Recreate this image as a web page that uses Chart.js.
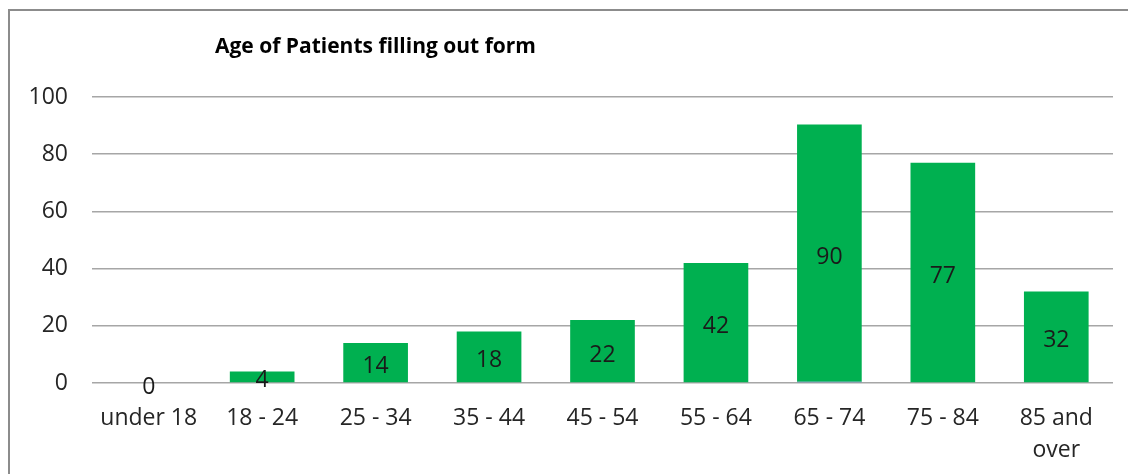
<!DOCTYPE html>
<html lang="en">
<head>
  <meta charset="UTF-8">
  <title>Age of Patients</title>
  <script src="https://cdn.jsdelivr.net/npm/chart.js"></script>
  <style>
    body { margin: 0; background: #fff; overflow: hidden; }
    .frame {
      position: absolute; left: 8px; top: 9px;
      width: 1140px; height: 480px;
      border: 2px solid #8c8c8c;
    }
    .wrap { position: absolute; left: 0; top: 0; width: 1128px; height: 474px; }
  </style>
</head>
<body>
  <div class="frame"></div>
  <div class="wrap"><canvas id="ageChart"></canvas></div>

  <script>
    const chartTitle = 'Age of Patients filling out form';
    const ageGroups = ['under 18', '18 - 24', '25 - 34', '35 - 44', '45 - 54', '55 - 64', '65 - 74', '75 - 84', ['85 and', 'over']];
    const patientCounts = [0, 4, 14, 18, 22, 42, 90, 77, 32];
    // thin second series showing under the 65 - 74 bar
    const otherCounts = [0, 0, 0, 0, 0, 0, 0.4, 0, 0];
    const yTicks = [0, 20, 40, 60, 80, 100];

    const textColor = '#262626';
    const fontFamily = '"Open Sans", Lato, sans-serif';

    // values written in the middle of each green bar
    const barLabels = {
      id: 'barLabels',
      afterDatasetsDraw(chart) {
        const ctx = chart.ctx;
        const meta = chart.getDatasetMeta(1);
        ctx.save();
        ctx.font = '23px ' + fontFamily;
        ctx.fillStyle = '#1a1a1a';
        ctx.textAlign = 'center';
        ctx.textBaseline = 'middle';
        meta.data.forEach((bar, i) => {
          const mid = (bar.y + bar.base) / 2;
          ctx.fillText(String(patientCounts[i]), bar.x, mid + 4);
        });
        ctx.restore();
      }
    };

    const titleText = {
      id: 'titleText',
      afterDraw(chart) {
        const ctx = chart.ctx;
        ctx.save();
        ctx.font = 'bold 21px ' + fontFamily;
        ctx.fillStyle = '#000';
        ctx.textAlign = 'left';
        ctx.textBaseline = 'middle';
        ctx.fillText(chartTitle, 215, 47);
        ctx.restore();
      }
    };

    const ctx = document.getElementById('ageChart').getContext('2d');
    new Chart(ctx, {
      type: 'bar',
      data: {
        labels: ageGroups,
        datasets: [{
          label: 'Other',
          data: otherCounts,
          backgroundColor: '#4f81bd',
          barPercentage: 0.57,
          categoryPercentage: 1
        }, {
          label: 'Patients',
          data: patientCounts,
          backgroundColor: '#00b050',
          barPercentage: 0.57,
          categoryPercentage: 1
        }]
      },
      options: {
        responsive: true,
        maintainAspectRatio: false,
        animation: false,
        layout: { padding: { left: 0, right: 15, top: 97, bottom: 0 } },
        scales: {
          x: {
            stacked: true,
            grid: { display: false },
            border: { display: false },
            ticks: {
              color: textColor,
              font: { family: fontFamily, size: 23, lineHeight: 1.4 },
              padding: 11,
              maxRotation: 0,
              autoSkip: false
            },
            afterFit(scale) { scale.height = 91; }
          },
          y: {
            stacked: true,
            min: 0,
            max: 100,
            afterBuildTicks(scale) { scale.ticks = yTicks.map(v => ({ value: v })); },
            grid: { color: '#a6a6a6', lineWidth: 1.5, drawTicks: false },
            border: { display: false },
            ticks: {
              color: textColor,
              font: { family: fontFamily, size: 23 },
              padding: 24
            },
            afterFit(scale) { scale.width = 92; }
          }
        },
        plugins: {
          legend: { display: false },
          tooltip: { enabled: false }
        }
      },
      plugins: [barLabels, titleText]
    });
  </script>
</body>
</html>
